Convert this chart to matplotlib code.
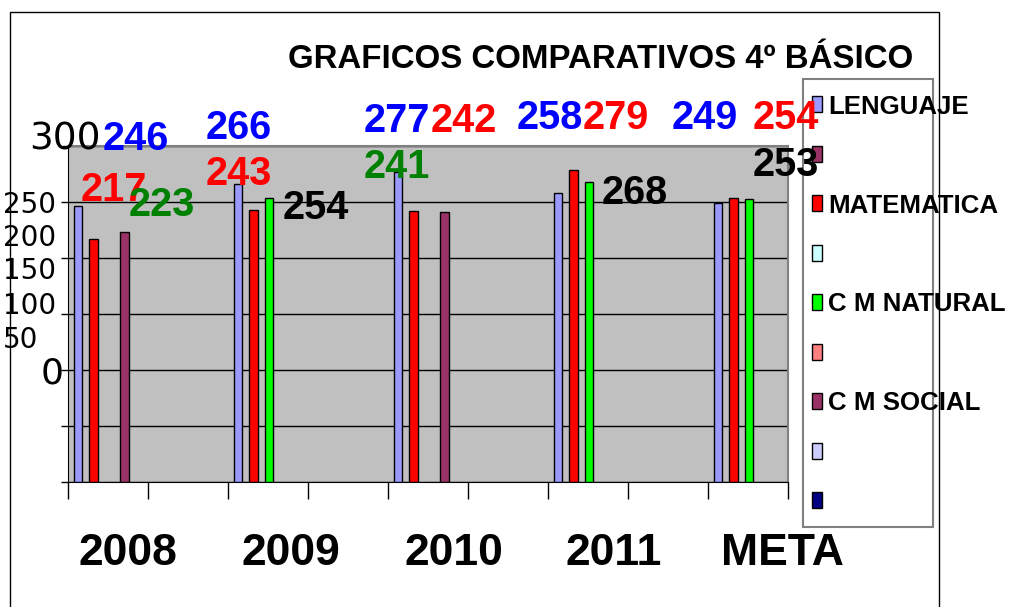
import numpy as np
import matplotlib
matplotlib.use("Agg")
import matplotlib.pyplot as plt
from matplotlib.patches import Rectangle

# ___ data
categories = ["2008", "2009", "2010", "2011", "META"]
lenguaje = [246, 266, 277, 258, 249]
matematica = [217, 243, 242, 279, 254]
natural = [np.nan, 254, np.nan, 268, 253]
social = [223, np.nan, 241, np.nan, np.nan]
series_vals = [lenguaje, matematica, natural, social]
series_colors = ["#9999FF", "#FF0000", "#00FF00", "#993366"]

legend_labels = ["LENGUAJE", "", "MATEMATICA", "", "C M NATURAL", "",
                 "C M SOCIAL", "", ""]
legend_colors = ["#9999FF", "#993366", "#FF0000", "#CCFFFF", "#00FF00",
                 "#FF8080", "#993366", "#CCCCFF", "#000080"]

ytick_labels = ["300", "250", "200", "150", "100", "50", "0"]

# value labels as they appear (text comes from the series above)
label_values = [lenguaje[0], matematica[0], social[0],
                lenguaje[1], matematica[1], natural[1],
                lenguaje[2], matematica[2], social[2],
                lenguaje[3], matematica[3], natural[3],
                lenguaje[4], matematica[4], natural[4]]
label_colors = ["#0000FF", "#FF0000", "#008000",
                "#0000FF", "#FF0000", "black",
                "#0000FF", "#FF0000", "#008000",
                "#0000FF", "#FF0000", "black",
                "#0000FF", "#FF0000", "black"]

# ___ layout (pixels from top-left of a 1010x607 canvas)
W, H = 1010, 607
label_pos = [(103, 135), (81, 186), (129, 201),
             (206, 124), (206, 170), (283, 204),
             (364, 117), (431, 117), (364, 163),
             (517, 114), (583, 114), (602, 189),
             (672, 114), (753, 114), (753, 161)]
ytick_pos = [(29, 135, 27), (3, 202, 20), (3, 235, 20), (3, 268, 20),
             (3, 303, 20), (3, 337, 20), (41, 370, 26)]
cat_pos = [128, 291, 454, 614, 782]


def fx(x):
    return x / W


def fy(y):
    return 1 - y / H


fig = plt.figure(figsize=(W / 100, H / 100), dpi=100)
fig.patch.set_facecolor("white")

# outer frame (bottom edge falls outside the picture)
fig.patches.append(Rectangle((fx(10), fy(640)), fx(939) - fx(10), fy(12) - fy(640),
                             transform=fig.transFigure, fill=False,
                             edgecolor="black", linewidth=1.0, zorder=0))

ax = fig.add_axes([fx(68), fy(482), fx(788) - fx(68), fy(146) - fy(482)])
ax.set_facecolor("#C0C0C0")

width = 0.107
pitch = 0.1925
for k, (vals, col) in enumerate(zip(series_vals, series_colors)):
    xs = np.arange(len(categories)) * 2 + 0.072 + k * pitch
    ax.bar(xs, vals, width=width, align="edge", color=col,
           edgecolor="black", linewidth=1.0, zorder=3)

ax.set_xlim(0, 9)
ax.set_ylim(0, 300)
ax.set_xticks(np.arange(10))
ax.set_xticklabels([])
ax.set_yticks(np.arange(0, 301, 50))
ax.set_yticklabels([])
ax.tick_params(axis="x", direction="out", length=12, width=1, color="black")
ax.tick_params(axis="y", direction="out", length=5, width=1, color="black")
ax.yaxis.grid(True, color="black", linewidth=1.0)
ax.set_axisbelow(True)
for s in ["left", "bottom"]:
    ax.spines[s].set_color("black")
for s in ["top", "right"]:
    ax.spines[s].set_color("#808080")
    ax.spines[s].set_linewidth(1.5)

# value labels
for v, c, (x, y) in zip(label_values, label_colors, label_pos):
    fig.text(fx(x), fy(y), str(v), color=c, fontsize=28.5, fontweight="bold",
             family="Liberation Sans", ha="left", va="center_baseline", zorder=5)

# misplaced y tick labels
for t, (x, y, fs) in zip(ytick_labels, ytick_pos):
    fig.text(fx(x), fy(y), t, fontsize=fs, family="DejaVu Sans",
             ha="left", va="center_baseline", color="black")

# category labels
for t, x in zip(categories, cat_pos):
    fig.text(fx(x), fy(549), t, fontsize=32, fontweight="bold",
             family="Liberation Sans", ha="center", va="center_baseline")

# title
fig.text(fx(288), fy(56), "GRAFICOS COMPARATIVOS 4º BÁSICO", fontsize=23.8,
         fontweight="bold", family="Liberation Sans", ha="left",
         va="center_baseline")

# legend box drawn by hand
fig.patches.append(Rectangle((fx(803), fy(527)), fx(933) - fx(803), fy(79) - fy(527),
                             transform=fig.transFigure, facecolor="white",
                             edgecolor="#808080", linewidth=1.5, zorder=1))
for i, (lab, col) in enumerate(zip(legend_labels, legend_colors)):
    yc = 104 + i * 49.5
    fig.patches.append(Rectangle((fx(812), fy(yc + 8)), fx(822) - fx(812), fy(yc - 8) - fy(yc + 8),
                                 transform=fig.transFigure, facecolor=col,
                                 edgecolor="black", linewidth=1.0, zorder=2))
    if lab:
        fig.text(fx(828), fy(yc), lab, fontsize=18.6, fontweight="bold",
                 family="Liberation Sans", ha="left", va="center_baseline", zorder=3)

fig.savefig("out.png", dpi=100)
